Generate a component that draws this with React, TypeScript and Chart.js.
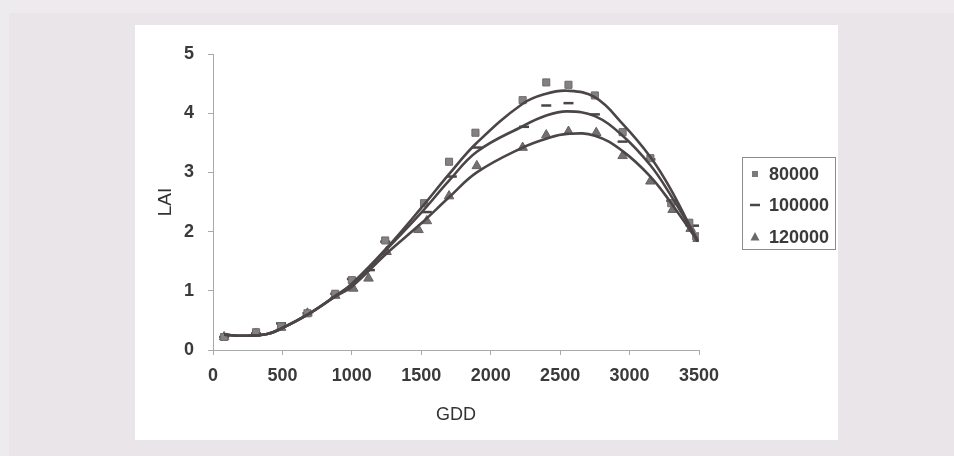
import React, { useEffect, useRef } from "react";
import { Chart, registerables } from "chart.js";

Chart.register(...registerables);

// ---- data ----
const SERIES_LABELS = ["80000", "100000", "120000"];

// measured points
const GDD_80 = [80, 310, 490, 680, 880, 1000, 1240, 1520, 1700, 1890, 2230, 2400, 2560, 2750, 2950, 3150, 3300, 3430, 3480];
const LAI_80 = [0.22, 0.3, 0.4, 0.62, 0.95, 1.18, 1.85, 2.48, 3.18, 3.67, 4.22, 4.52, 4.48, 4.3, 3.68, 3.24, 2.48, 2.15, 1.92];

const GDD_100 = [80, 310, 490, 680, 880, 1000, 1130, 1240, 1540, 1720, 1900, 2240, 2400, 2560, 2750, 2950, 3150, 3300, 3490];
const LAI_100 = [0.22, 0.28, 0.45, 0.62, 0.95, 1.2, 1.35, 1.83, 2.33, 2.93, 3.42, 3.77, 4.13, 4.17, 3.98, 3.52, 3.22, 2.52, 2.1];

const GDD_120 = [80, 310, 490, 680, 880, 1010, 1120, 1250, 1480, 1540, 1700, 1900, 2230, 2400, 2560, 2760, 2950, 3150, 3310, 3440, 3490];
const LAI_120 = [0.22, 0.28, 0.38, 0.62, 0.92, 1.04, 1.21, 1.66, 2.03, 2.18, 2.6, 3.11, 3.42, 3.63, 3.69, 3.67, 3.28, 2.85, 2.37, 2.05, 1.88];

// trend curves, values
const TREND_X = [80, 220, 390, 490, 690, 880, 1000, 1250, 1500, 1700, 1900, 2230, 2400, 2550, 2750, 2950, 3150, 3300, 3490];
const TREND_80 = [0.26, 0.24, 0.27, 0.36, 0.61, 0.91, 1.12, 1.72, 2.4, 2.97, 3.5, 4.16, 4.33, 4.38, 4.27, 3.82, 3.26, 2.7, 1.83];
const TREND_100 = [0.26, 0.24, 0.27, 0.36, 0.61, 0.91, 1.1, 1.7, 2.32, 2.86, 3.35, 3.78, 3.96, 4.03, 3.95, 3.62, 3.12, 2.6, 1.86];
const TREND_120 = [0.26, 0.24, 0.27, 0.36, 0.61, 0.9, 1.07, 1.63, 2.14, 2.58, 3.0, 3.42, 3.57, 3.65, 3.62, 3.36, 2.93, 2.48, 1.84];

const X_TICKS = [0, 500, 1000, 1500, 2000, 2500, 3000, 3500];
const Y_TICKS = [0, 1, 2, 3, 4, 5];
const X_TITLE = "GDD";
const Y_TITLE = "LAI";

const toPts = (xs: number[], ys: number[]) => xs.map((x, i) => ({ x, y: ys[i] }));

const legendPlugin = {
  id: "boxLegend",
  afterDraw(chart: any) {
    const ctx = chart.ctx;
    const bx = 742, by = 157, bw = 93, bh = 92;
    ctx.save();
    ctx.strokeStyle = "#8c8c8c";
    ctx.lineWidth = 1;
    ctx.strokeRect(bx + 0.5, by + 0.5, bw, bh);
    const rows = [174, 205, 237];
    ctx.font = "bold 18px 'Liberation Sans', Arial, sans-serif";
    ctx.textBaseline = "middle";
    ctx.textAlign = "left";
    SERIES_LABELS.forEach((lab, i) => {
      const y = rows[i];
      const mx = 755;
      if (i === 0) {
        ctx.fillStyle = "#7e7a7c";
        ctx.fillRect(mx - 3, y - 3, 6, 6);
      } else if (i === 1) {
        ctx.strokeStyle = "#4a4648";
        ctx.lineWidth = 2.5;
        ctx.beginPath();
        ctx.moveTo(mx - 5, y);
        ctx.lineTo(mx + 5, y);
        ctx.stroke();
      } else {
        ctx.fillStyle = "#6c6868";
        ctx.beginPath();
        ctx.moveTo(mx, y - 5);
        ctx.lineTo(mx + 4.5, y + 3.5);
        ctx.lineTo(mx - 4.5, y + 3.5);
        ctx.closePath();
        ctx.fill();
      }
      ctx.fillStyle = "#3a3a3a";
      ctx.fillText(lab, 769, y + 1);
    });
    ctx.restore();
  },
};

export default function App() {
  const ref = useRef<HTMLCanvasElement>(null);
  useEffect(() => {
    document.body.style.margin = "0";
    const lineColor = "#4b4547";
    const font = "'Liberation Sans', Arial, sans-serif";
    const trendDs = (label: string, ys: number[]) => ({
      label,
      data: toPts(TREND_X, ys),
      showLine: true,
      pointRadius: 0,
      borderColor: lineColor,
      borderWidth: 2.6,
      tension: 0.4,
      order: 0,
    });
    const chart = new Chart(ref.current!, {
      type: "scatter",
      data: {
        datasets: [
          { label: SERIES_LABELS[0], data: toPts(GDD_80, LAI_80), pointStyle: "rect", pointRadius: 5, backgroundColor: "#858083", borderColor: "#6e6a6c", borderWidth: 1, order: 1 },
          { label: SERIES_LABELS[1], data: toPts(GDD_100, LAI_100), pointStyle: "line", pointRadius: 5, backgroundColor: "#4a4648", borderColor: "#4a4648", borderWidth: 2.5, order: 1 },
          { label: SERIES_LABELS[2], data: toPts(GDD_120, LAI_120), pointStyle: "triangle", pointRadius: 5.5, backgroundColor: "#747070", borderColor: "#666262", borderWidth: 1, order: 1 },
          trendDs("t80", TREND_80),
          trendDs("t100", TREND_100),
          trendDs("t120", TREND_120),
        ] as any,
      },
      options: {
        animation: false,
        responsive: false,
        maintainAspectRatio: false,
        layout: { padding: { left: 133, right: 255, top: 54, bottom: 26 } },
        plugins: { legend: { display: false }, tooltip: { enabled: false } },
        scales: {
          x: {
            type: "linear",
            min: 0,
            max: 3500,
            afterFit: (s: any) => { s.height = 80; },
            afterBuildTicks: (s: any) => { s.ticks = X_TICKS.map((v) => ({ value: v })); },
            border: { color: "#a9a9a9", width: 1 },
            grid: { display: true, drawOnChartArea: false, drawTicks: true, tickLength: 5, color: "#a9a9a9" },
            ticks: { color: "#3a3a3a", padding: 10, callback: (v: any) => String(v), font: { family: font, size: 18, weight: "bold" } },
            title: { display: true, text: X_TITLE, color: "#333", padding: { top: 0, bottom: 4 }, font: { family: font, size: 18 } },
          },
          y: {
            type: "linear",
            min: 0,
            max: 5,
            afterFit: (s: any) => { s.width = 80; },
            afterBuildTicks: (s: any) => { s.ticks = Y_TICKS.map((v) => ({ value: v })); },
            border: { color: "#a9a9a9", width: 1 },
            grid: { display: true, drawOnChartArea: false, drawTicks: true, tickLength: 5, color: "#a9a9a9" },
            ticks: { color: "#3a3a3a", padding: 14, callback: (v: any) => String(v), font: { family: font, size: 18, weight: "bold" } },
            title: { display: true, text: Y_TITLE, color: "#333", padding: { top: 21, bottom: 0 }, font: { family: font, size: 19 } },
          },
        },
      } as any,
      plugins: [legendPlugin],
    });
    return () => chart.destroy();
  }, []);

  return (
    <div style={{ position: "relative", width: 954, height: 456, background: "#eeebee", overflow: "hidden" }}>
      <div style={{ position: "absolute", left: 9, top: 13, right: 0, bottom: 0, background: "#e9e5e9" }} />
      <div style={{ position: "absolute", left: 135, top: 25, width: 703, height: 415, background: "#ffffff" }} />
      <canvas ref={ref} width={954} height={456} style={{ position: "absolute", left: 0, top: 0, width: 954, height: 456 }} />
    </div>
  );
}
